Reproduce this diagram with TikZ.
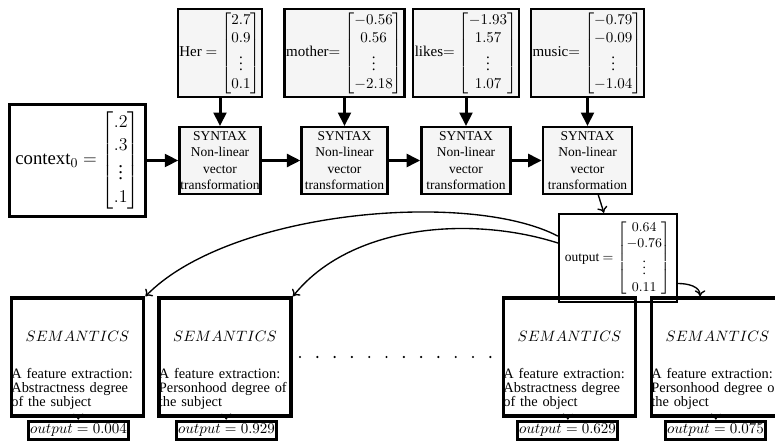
\documentclass[tikz,border=0pt]{standalone}
\usepackage{amsmath}
\usepackage[no-math]{fontspec}
\setmainfont{Liberation Serif}
\usetikzlibrary{arrows.meta}

\tikzset{
	wordbox/.style={draw, line width=1.6pt, fill=gray!8, minimum height=2.06cm, inner sep=1pt},
	syntaxbox/.style={draw, line width=1.6pt, fill=gray!8, align=center, font=\small, minimum height=1.56cm, inner xsep=0.5pt, inner ysep=1pt},
	ctxbox/.style={draw, line width=2pt, fill=white, font=\fontsize{12.5pt}{15pt}\selectfont, minimum width=3.2cm, minimum height=2.62cm, inner sep=1pt},
	outbox/.style={draw, line width=1.6pt, fill=white, font=\small, minimum width=2.76cm, minimum height=2.06cm, inner sep=1pt},
	sembox/.style={draw, line width=2.4pt, minimum height=2.76cm, text width=3.1cm, inner xsep=0pt, inner ysep=0pt, align=left, font=\fontsize{9.6pt}{9.5pt}\selectfont},
	valbox/.style={draw, line width=2pt, fill=white, minimum width=2.36cm, minimum height=0.44cm, inner sep=1pt},
	bigarrow/.style={line width=2pt, -{Triangle[length=9pt,width=8.5pt]}},
	smallarrow/.style={line width=0.9pt, -{To[length=4pt,width=7pt]}}
}

\begin{document}
\begin{tikzpicture}[x=0.02343cm, y=-0.02343cm]
	\useasboundingbox (0,0) rectangle (775,443);

	\node [ctxbox] (ctx) at (77.5,160.5) {context$_0 = \begin{bmatrix}.2\\.3\\\vdots\\.1\end{bmatrix}$};

	\node [wordbox, minimum width=1.92cm] (her) at (220,53) {Her $= \begin{bmatrix}2.7\\0.9\\\vdots\\0.1\end{bmatrix}$};
	\node [wordbox, minimum width=2.78cm] (mother) at (344.5,53) {mother$= \begin{bmatrix}-0.56\\0.56\\\vdots\\-2.18\end{bmatrix}$};
	\node [wordbox, minimum width=2.48cm] (likes) at (466,53) {likes$= \begin{bmatrix}-1.93\\1.57\\\vdots\\1.07\end{bmatrix}$};
	\node [wordbox, minimum width=2.64cm] (music) at (587.5,53) {music$= \begin{bmatrix}-0.79\\-0.09\\\vdots\\-1.04\end{bmatrix}$};

	\node [syntaxbox] (syn1) at (220,160.5) {SYNTAX\\Non-linear\\vector\\transformation};
	\node [syntaxbox, minimum width=2.01cm] (syn2) at (344.5,160.5) {SYNTAX\\Non-linear\\vector\\transformation};
	\node [syntaxbox, minimum width=2.09cm] (syn3) at (466,160.5) {SYNTAX\\Non-linear\\vector\\transformation};
	\node [syntaxbox, minimum width=2.09cm] (syn4) at (587.5,160.5) {SYNTAX\\Non-linear\\vector\\transformation};

	\node [outbox] (outv) at (618,258) {output $= \begin{bmatrix}0.64\\-0.76\\\vdots\\0.11\end{bmatrix}$};

	\node [sembox] (sem1) at (77.5,357) {\centering\rule{0pt}{25pt}$SEMANTICS$\par\vspace{15pt}\raggedright A feature extraction:\\Abstractness degree\\of the subject};
	\node [sembox] (sem2) at (225,357) {\centering\rule{0pt}{25pt}$SEMANTICS$\par\vspace{15pt}\raggedright A feature extraction:\\\mbox{Personhood degree of}\\the subject};
	\node [sembox] (sem3) at (569.5,357) {\centering\rule{0pt}{25pt}$SEMANTICS$\par\vspace{15pt}\raggedright A feature extraction:\\Abstractness degree\\of the object};
	\node [sembox] (sem4) at (717.5,357) {\centering\rule{0pt}{25pt}$SEMANTICS$\par\vspace{15pt}\raggedright A feature extraction:\\\mbox{Personhood degree of}\\the object};

	\node [valbox] (val1) at (78.5,430.5) {$output = 0.004$};
	\node [valbox] (val2) at (226.5,430.5) {$output = 0.929$};
	\node [valbox] (val3) at (567.5,430.5) {$output = 0.629$};
	\node [valbox] (val4) at (715.5,430.5) {$output = 0.075$};

	\foreach \i in {0,...,11}
		\fill (300+17.3*\i,357) circle (0.8pt);

	\draw [bigarrow] (her) -- (syn1);
	\draw [bigarrow] (mother) -- (syn2);
	\draw [bigarrow] (likes) -- (syn3);
	\draw [bigarrow] (music) -- (syn4);

	\draw [bigarrow] (ctx) -- (syn1);
	\draw [bigarrow] (syn1) -- (syn2);
	\draw [bigarrow] (syn2) -- (syn3);
	\draw [bigarrow] (syn3) -- (syn4);

	\draw [smallarrow] (syn4) -- (outv);
	\draw [smallarrow] (outv.160) .. controls (470,190) and (230,210) .. (sem1.north east);
	\draw [smallarrow] (outv.166) .. controls (470,215) and (350,225) .. (sem2.north east);
	\draw [smallarrow] (outv.-23) to [out=0, in=90] (sem4.106);

	\draw [smallarrow] (sem1) -- (val1);
	\draw [smallarrow] (sem2) -- (val2);
	\draw [smallarrow] (sem3) -- (val3);
	\draw [smallarrow] (sem4) -- (val4);
\end{tikzpicture}
\end{document}
